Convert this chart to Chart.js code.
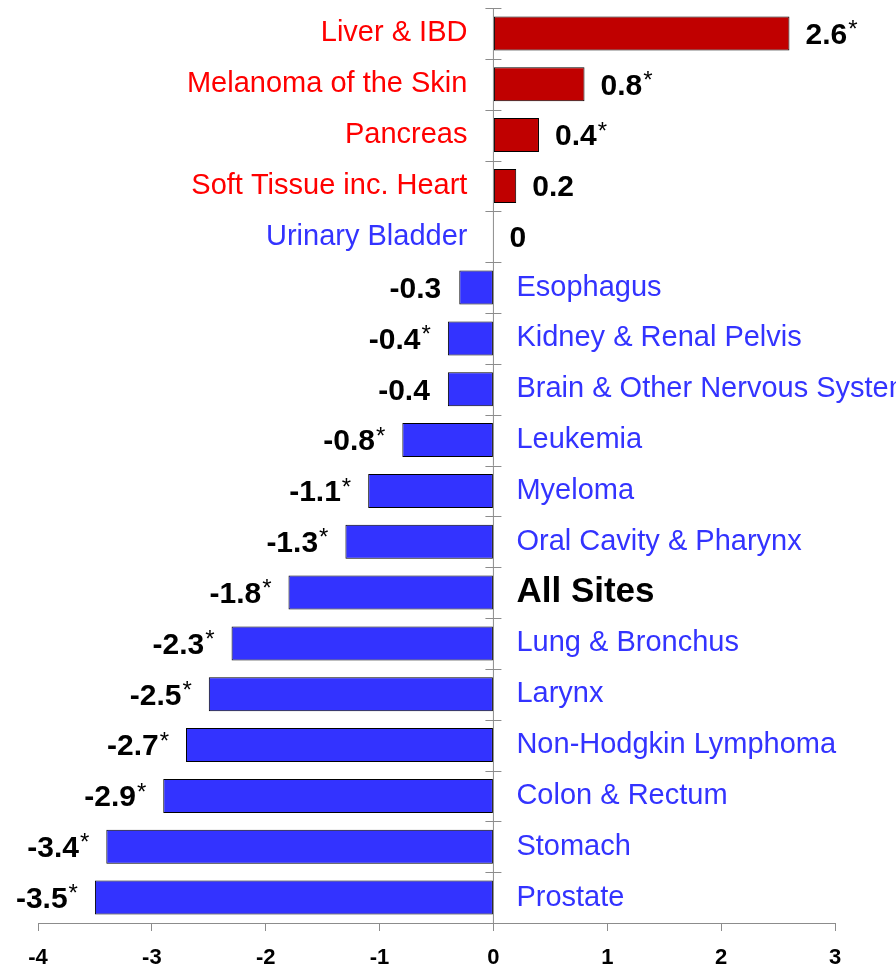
<!DOCTYPE html>
<html lang="en">
<head>
    <meta charset="UTF-8">
    <script src="https://cdn.jsdelivr.net/npm/chart.js"></script>
    <title>Cancer incidence trends</title>
    <style>
        body { margin: 0; background: #fff; }
    </style>
</head>
<body>
    <div>
        <canvas id="myChart" width="896" height="967"></canvas>
        <script>
            const sites = ['Liver & IBD', 'Melanoma of the Skin', 'Pancreas', 'Soft Tissue inc. Heart',
                'Urinary Bladder', 'Esophagus', 'Kidney & Renal Pelvis', 'Brain & Other Nervous System',
                'Leukemia', 'Myeloma', 'Oral Cavity & Pharynx', 'All Sites', 'Lung & Bronchus', 'Larynx',
                'Non-Hodgkin Lymphoma', 'Colon & Rectum', 'Stomach', 'Prostate'];
            const change = [2.6, 0.8, 0.4, 0.2, 0, -0.3, -0.4, -0.4, -0.8, -1.1, -1.3, -1.8, -2.3, -2.5, -2.7, -2.9, -3.4, -3.5];
            const significant = [true, true, true, false, false, false, true, false, true, true, true, true, true, true, true, true, true, true];
            const xTicks = [-4, -3, -2, -1, 0, 1, 2, 3];

            const RED = '#c00000';
            const BLUE = '#3333ff';
            const FONT = 'Arial, "Liberation Sans", sans-serif';

            // labels next to the zero line, values at the end of each bar
            const labelPlugin = {
                id: 'labels',
                afterDatasetsDraw(chart) {
                    const c = chart.ctx;
                    const x = chart.scales.x;
                    const y = chart.scales.y;
                    const zero = x.getPixelForValue(0);
                    const step = y.getPixelForValue(1) - y.getPixelForValue(0);

                    // zero axis with category ticks
                    c.save();
                    c.strokeStyle = '#8c8c8c';
                    c.lineWidth = 1;
                    c.beginPath();
                    c.moveTo(zero, chart.chartArea.top);
                    c.lineTo(zero, chart.chartArea.bottom);
                    for (let i = 0; i <= sites.length; i++) {
                        const py = Math.round(y.getPixelForValue(i) - step / 2) + 0.5;
                        c.moveTo(zero - 8, py);
                        c.lineTo(zero + 8, py);
                    }
                    c.stroke();

                    c.textBaseline = 'middle';
                    sites.forEach((name, i) => {
                        const v = change[i];
                        const py = y.getPixelForValue(i);
                        const end = x.getPixelForValue(v);
                        const txt = String(v);

                        // site name
                        if (name === 'All Sites') {
                            c.font = 'bold 35px ' + FONT;
                            c.fillStyle = '#000';
                        } else {
                            c.font = '29px ' + FONT;
                            c.fillStyle = v > 0 ? '#ff0000' : BLUE;
                        }
                        if (v >= 0) {
                            c.textAlign = 'right';
                            c.fillText(name, zero - 26, py);
                        } else {
                            c.textAlign = 'left';
                            c.fillText(name, zero + 23, py);
                        }

                        // value
                        c.font = 'bold 30px ' + FONT;
                        const w = c.measureText(txt).width;
                        c.font = '24px ' + FONT;
                        const star = significant[i] ? '*' : '';
                        const sw = c.measureText(star).width;
                        let left;
                        if (v >= 0) {
                            left = end + 16;
                        } else {
                            left = end - 18 - w - sw;
                        }
                        c.textAlign = 'left';
                        c.fillStyle = '#000';
                        c.font = 'bold 30px ' + FONT;
                        c.fillText(txt, left, py + 2);
                        if (star) {
                            c.font = '24px ' + FONT;
                            c.fillText(star, left + w + 1, py - 3);
                        }
                    });
                    c.restore();
                }
            };

            const ctx = document.getElementById('myChart');
            const chart = new Chart(ctx, {
                type: 'bar',
                data: {
                    labels: sites,
                    datasets: [{
                        data: change,
                        backgroundColor: change.map(v => v > 0 ? RED : BLUE),
                        borderColor: '#000',
                        borderWidth: 1,
                        borderSkipped: false,
                        barPercentage: 0.67,
                        categoryPercentage: 1
                    }]
                },
                options: {
                    responsive: false,
                    animation: false,
                    indexAxis: 'y',
                    layout: {
                        padding: { left: 38, right: 61, top: 8, bottom: -18 }
                    },
                    plugins: {
                        legend: { display: false },
                        tooltip: { enabled: false }
                    },
                    scales: {
                        x: {
                            min: -4,
                            max: 3,
                            afterBuildTicks: (s) => { s.ticks = xTicks.map(v => ({ value: v })); },
                            grid: {
                                drawOnChartArea: false,
                                color: '#8c8c8c',
                                tickLength: 8
                            },
                            border: { color: '#8c8c8c' },
                            ticks: {
                                color: '#000',
                                padding: 16,
                                font: { family: FONT, size: 22, weight: 'bold', lineHeight: 1 }
                            }
                        },
                        y: {
                            display: false
                        }
                    }
                },
                plugins: [labelPlugin]
            });
        </script>
    </div>
</body>
</html>
